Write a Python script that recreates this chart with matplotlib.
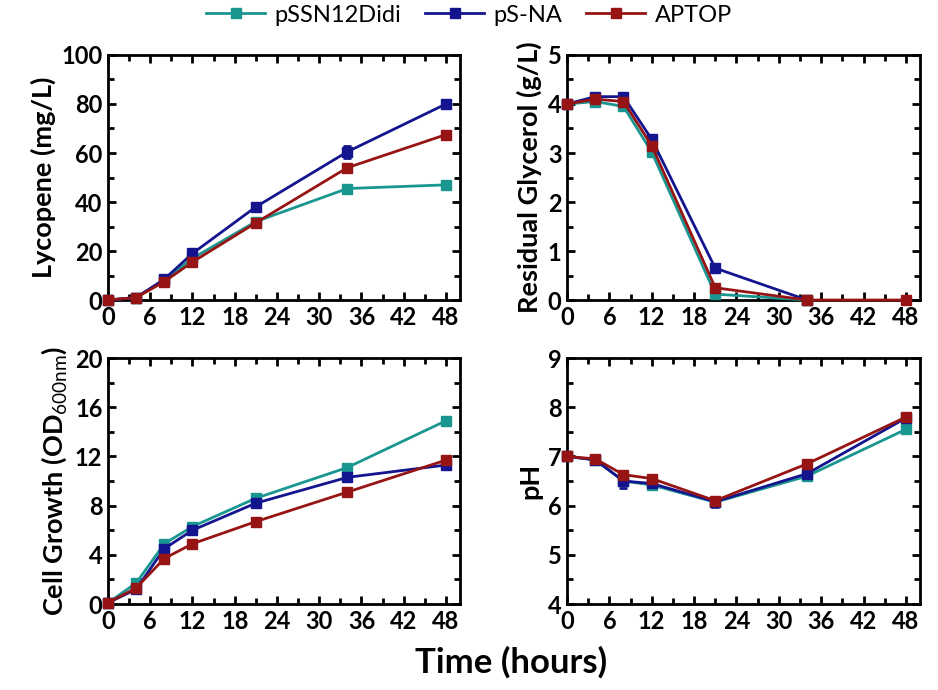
import numpy as np
import matplotlib
matplotlib.use('Agg')
import matplotlib.pyplot as plt
from matplotlib.ticker import MultipleLocator
from matplotlib.lines import Line2D

plt.rcParams['font.family'] = ['Lato', 'DejaVu Sans']
plt.rcParams['mathtext.fontset'] = 'custom'
plt.rcParams['mathtext.rm'] = 'Lato'
plt.rcParams['mathtext.bf'] = 'Lato:bold'

# ---- dados ----
time_h = [0, 4, 8, 12, 21, 34, 48]
strains = ['pSSN12Didi', 'pS-NA', 'APTOP']
colors = ['#1a9690', '#14148f', '#961414']

lyco = {
    'pSSN12Didi': [0, 1, 8, 17, 32, 45.5, 47],
    'pS-NA':      [0, 1, 8.5, 19, 38, 60.5, 80],
    'APTOP':      [0, 1, 7.5, 15.5, 31.5, 54, 67.5],
}
lyco_err = {
    'pSSN12Didi': [0, 0.5, 0.5, 0.8, 0.8, 1.0, 1.0],
    'pS-NA':      [0, 0.5, 0.8, 1.0, 1.2, 2.5, 1.2],
    'APTOP':      [0, 0.5, 0.5, 0.8, 1.0, 1.2, 1.2],
}
glyc = {
    'pSSN12Didi': [4.0, 4.05, 3.95, 3.02, 0.12, 0.0, np.nan],
    'pS-NA':      [4.0, 4.15, 4.15, 3.28, 0.65, 0.0, np.nan],
    'APTOP':      [4.0, 4.1, 4.05, 3.15, 0.25, 0.0, 0.0],
}
glyc_err = {
    'pSSN12Didi': [0.03, 0.05, 0.05, 0.05, 0.05, 0, 0],
    'pS-NA':      [0.03, 0.06, 0.06, 0.06, 0.05, 0, 0],
    'APTOP':      [0.03, 0.06, 0.06, 0.06, 0.08, 0, 0],
}
od = {
    'pSSN12Didi': [0.1, 1.7, 4.9, 6.3, 8.6, 11.1, 14.9],
    'pS-NA':      [0.1, 1.2, 4.5, 6.0, 8.2, 10.3, 11.3],
    'APTOP':      [0.1, 1.3, 3.7, 4.9, 6.7, 9.1, 11.7],
}
od_err = {
    'pSSN12Didi': [0, 0.1, 0.2, 0.2, 0.2, 0.2, 0.2],
    'pS-NA':      [0, 0.1, 0.2, 0.2, 0.2, 0.2, 0.2],
    'APTOP':      [0, 0.1, 0.2, 0.2, 0.2, 0.2, 0.2],
}
ph = {
    'pSSN12Didi': [7.0, 6.93, 6.5, 6.42, 6.07, 6.6, 7.55],
    'pS-NA':      [7.0, 6.93, 6.5, 6.45, 6.08, 6.65, 7.78],
    'APTOP':      [7.0, 6.95, 6.63, 6.55, 6.1, 6.85, 7.8],
}
ph_err = {
    'pSSN12Didi': [0.03, 0.05, 0.08, 0.05, 0.05, 0.05, 0.06],
    'pS-NA':      [0.03, 0.08, 0.15, 0.06, 0.1, 0.05, 0.04],
    'APTOP':      [0.03, 0.05, 0.06, 0.05, 0.06, 0.06, 0.04],
}

panels = [
    (lyco, lyco_err, 'Lycopene (mg/L)', (0, 100), 20, 10),
    (glyc, glyc_err, 'Residual Glycerol (g/L)', (0, 5), 1, 0.5),
    (od, od_err, r'Cell Growth (OD$_{\mathrm{600nm}}$)', (0, 20), 4, 2),
    (ph, ph_err, 'pH', (4, 9), 1, 0.5),
]
rects = [
    [0.1151, 0.5652, 0.3753, 0.3551],
    [0.6045, 0.5652, 0.3763, 0.3551],
    [0.1151, 0.1246, 0.3753, 0.3565],
    [0.6045, 0.1246, 0.3763, 0.3565],
]

fig = plt.figure(figsize=(9.38, 6.9), dpi=100)

for rect, (data, err, ylabel, ylim, major, minor) in zip(rects, panels):
    ax = fig.add_axes(rect)
    for s, c in zip(strains, colors):
        ax.errorbar(time_h, data[s], yerr=err[s], color=c, marker='s',
                    markersize=7, linewidth=2, elinewidth=2, capsize=3,
                    capthick=2, clip_on=False, zorder=3)
    ax.set_xlim(0, 50)
    ax.set_ylim(*ylim)
    ax.xaxis.set_major_locator(MultipleLocator(6))
    ax.xaxis.set_minor_locator(MultipleLocator(3))
    ax.yaxis.set_major_locator(MultipleLocator(major))
    ax.yaxis.set_minor_locator(MultipleLocator(minor))
    ax.tick_params(which='both', direction='in', top=True, right=True, width=2)
    ax.tick_params(which='major', length=6, labelsize=17, pad=4)
    ax.tick_params(which='minor', length=4)
    for lab in ax.get_xticklabels() + ax.get_yticklabels():
        lab.set_fontweight('bold')
    for sp in ax.spines.values():
        sp.set_linewidth(2)
    ax.set_ylabel(ylabel, fontsize=19.5, fontweight='bold', labelpad=4)

fig.text(0.545, 0.04, 'Time (hours)', ha='center', va='center',
         fontsize=25, fontweight='bold')

handles = [Line2D([0], [0], color=c, marker='s', markersize=7, linewidth=2)
           for c in colors]
fig.legend(handles, strains, loc='center', bbox_to_anchor=(0.5, 0.978),
           ncol=3, frameon=False, fontsize=17, handlelength=2.5,
           columnspacing=1.0, handletextpad=0.4)

plt.savefig('out.png', dpi=100)
